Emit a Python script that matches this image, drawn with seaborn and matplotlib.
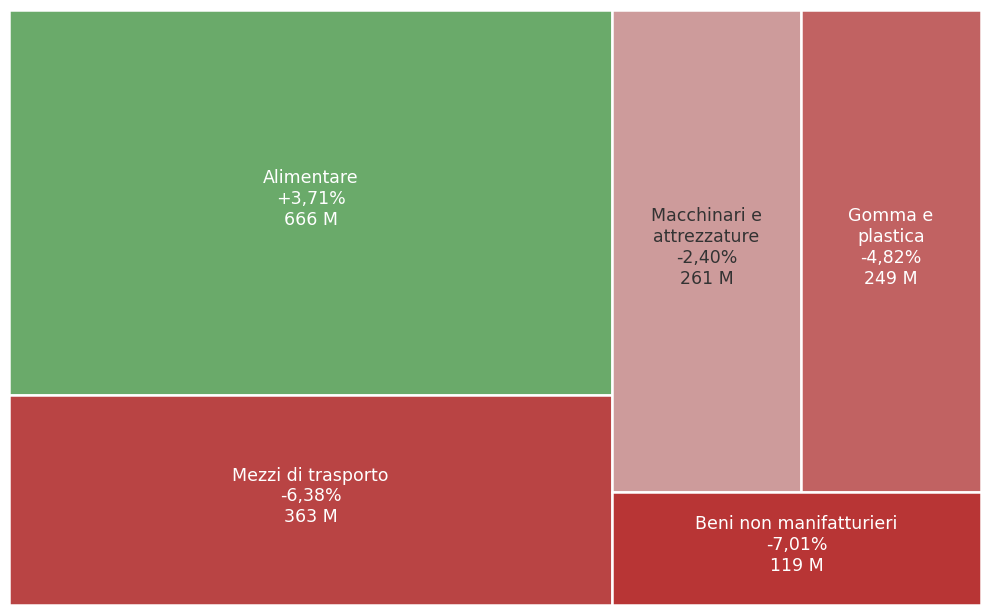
import matplotlib
matplotlib.use("Agg")
import matplotlib.pyplot as plt
from matplotlib.patches import Rectangle
import seaborn as sns

# Export value by sector (millions) and year-on-year change
sectors = ["Alimentare", "Mezzi di trasporto", "Macchinari e\nattrezzature",
           "Gomma e\nplastica", "Beni non manifatturieri"]
values = [666, 363, 261, 249, 119]
changes = ["+3,71%", "-6,38%", "-2,40%", "-4,82%", "-7,01%"]
colors = ["#6aaa6a", "#b94444", "#cd9b9b", "#c16262", "#b83535"]
text_colors = ["white", "white", "#333333", "white", "white"]

sns.set_theme(style="white")
plt.rcParams["font.family"] = ["DejaVu Sans"]

fig = plt.figure(figsize=(9.81, 6.05), dpi=100)
ax = fig.add_axes([9 / 981, 0, 972 / 981, 595 / 605])
ax.set_xlim(0, 1)
ax.set_ylim(0, 1)
ax.invert_yaxis()
ax.axis("off")

total = sum(values)
rects = []
# left column: the two largest sectors stacked
left_w = (values[0] + values[1]) / total
h0 = values[0] / (values[0] + values[1])
rects.append((0, 0, left_w, h0))
rects.append((0, h0, left_w, 1 - h0))
# right column: a row of two on top, the smallest below
right_sum = values[2] + values[3] + values[4]
top_h = (values[2] + values[3]) / right_sum
rw = 1 - left_w
w2 = rw * values[2] / (values[2] + values[3])
rects.append((left_w, 0, w2, top_h))
rects.append((left_w + w2, 0, rw - w2, top_h))
rects.append((left_w, top_h, rw, 1 - top_h))

for (x, y, w, h), name, val, ch, col, tc in zip(rects, sectors, values, changes,
                                                 colors, text_colors):
    ax.add_patch(Rectangle((x, y), w, h, facecolor=col, edgecolor="white",
                           linewidth=1.8))
    ax.text(x + w / 2, y + h / 2 - 0.006, f"{name}\n{ch}\n{val} M",
            ha="center", va="center", color=tc, fontsize=12.5,
            linespacing=1.2)

fig.savefig("out.png", dpi=100, facecolor="white")
